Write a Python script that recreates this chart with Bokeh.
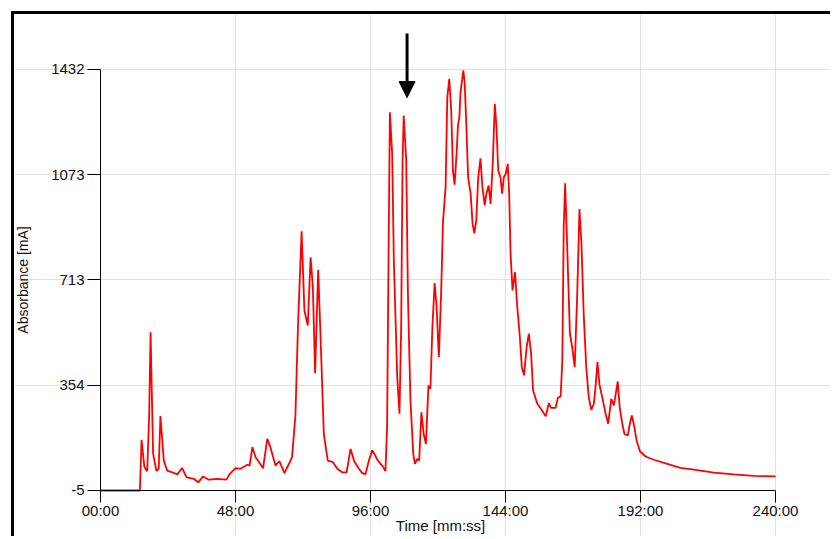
import math
from bokeh.plotting import figure
from bokeh.models import Range1d, FixedTicker, Arrow, NormalHead, Label
from bokeh.embed import file_html
from bokeh.resources import INLINE

# Time in minutes, absorbance in mA
time_min = [0, 14.0, 14.6, 15.6, 16.6, 17.3, 17.8, 18.7, 19.9, 20.7, 21.3, 22.5, 23.7,
            25.5, 27.3, 29.0, 30.6, 33.2, 34.7, 36.5, 38.5, 41.5, 44.8, 46.0, 48.0,
            49.8, 52.2, 53.0, 54.0, 55.1, 56.3, 57.8, 59.3, 60.4, 62.2, 63.6, 65.4,
            67.3, 68.1, 69.3, 70.2, 71.5, 72.5, 73.7, 74.7, 75.5, 76.3, 77.4, 78.2,
            79.4, 80.8, 82.6, 84.2, 85.9, 87.5, 88.9, 90.2, 91.9, 93.0, 94.2, 95.5,
            96.6, 97.5, 98.4, 99.6, 100.5, 101.3, 101.9, 102.5, 102.9, 103.7, 104.3,
            105.5, 106.3, 106.9, 107.4, 107.8, 108.7, 109.3, 110.2, 111.2, 111.8,
            112.6, 113.3, 114.1, 114.9, 115.7, 116.6, 117.3, 118.0, 118.8, 119.5,
            120.3, 121.1, 121.8, 122.7, 123.3, 124.0, 124.7, 125.3, 125.9, 126.6,
            127.1, 127.6, 128.0, 129.0, 129.5, 130.1, 130.7, 131.6, 132.3, 132.9,
            133.6, 134.3, 135.1, 135.8, 136.6, 137.2, 138.0, 138.7, 139.5, 140.2,
            140.8, 141.4, 142.2, 142.8, 143.4, 144.1, 144.8, 145.3, 145.8, 146.5,
            147.4, 148.1, 149.1, 149.8, 150.6, 151.5, 152.3, 153.1, 153.8, 155.3,
            157.0, 158.3, 159.4, 160.2, 161.8, 162.6, 163.6, 164.2, 164.7, 165.2,
            165.9, 166.9, 167.7, 168.6, 169.5, 170.3, 171.0, 171.8, 172.7, 173.6,
            174.5, 175.4, 176.0, 176.7, 177.4, 178.4, 179.6, 180.5, 181.6, 182.5,
            183.2, 183.9, 184.6, 185.5, 186.3, 187.5, 188.2, 188.9, 189.6, 190.6,
            191.8, 193.8, 196.7, 201.5, 206.2, 211.0, 218.1, 225.2, 232.3, 240.0]
absorbance = [-5, -5, 168, 75, 61, 251, 535, 120, 61, 70, 249, 97, 63,
              57, 50, 72, 40, 35, 23, 43, 32, 35, 32, 52, 71,
              69, 83, 80, 143, 109, 92, 71, 171, 143, 80, 95, 54,
              92, 109, 251, 552, 880, 609, 558, 791, 689, 395, 748, 530,
              188, 97, 92, 69, 57, 57, 137, 95, 69, 55, 50, 100,
              132, 118, 100, 86, 75, 61, 211, 894, 1286, 1144, 780,
              382, 257, 552, 1121, 1275, 1121, 666, 302, 120, 86,
              103, 97, 262, 188, 154, 353, 342, 552, 703, 621,
              450, 666, 917, 1030, 1337, 1400, 1292, 1087, 1039, 1144,
              1241, 1269, 1354, 1429, 1383, 1235, 1064, 1008, 905, 873,
              917, 1064, 1129, 1030, 968, 1008, 1036, 973, 1121, 1315,
              1235, 1087, 1064, 1008, 1064, 1076, 1110, 1008, 803, 678,
              740, 632, 518, 416, 388, 484, 530, 462, 336, 291,
              268, 248, 293, 277, 277, 311, 316, 439, 894, 1044,
              837, 530, 484, 416, 666, 956, 837, 598, 416, 313,
              270, 291, 348, 433, 357, 313, 257, 223, 308, 285,
              325, 367, 279, 223, 188, 183, 223, 251, 223, 166,
              129, 111, 100, 86, 72, 66, 56, 50, 45, 43]

x_ticks = [0, 48, 96, 144, 192, 240]
x_tick_labels = ["00:00", "48:00", "96:00", "144:00", "192:00", "240:00"]
y_ticks = [-5, 354.25, 713.5, 1072.75, 1432]
y_tick_labels = ["-5", "354", "713", "1073", "1432"]

arrow_time = 109
arrow_from = 1555
arrow_to = 1336

FONT = "Liberation Sans"

p = figure(width=819, height=525, output_backend="svg", toolbar_location=None,
           x_range=Range1d(-30.58, 260.62), y_range=Range1d(-172.25, 1619.7),
           min_border=0, min_border_left=0, min_border_right=0,
           min_border_top=0, min_border_bottom=0)
p.styles = {"border-top": "3px solid #000", "border-left": "3px solid #000",
            "margin-top": "11px", "margin-left": "11px"}
p.outline_line_color = None
p.background_fill_color = "white"
p.border_fill_color = "white"

p.line(time_min, absorbance, line_color="#ff0000", line_width=1.8)

for ax in (p.xaxis[0], p.yaxis[0]):
    ax.axis_line_color = "black"
    ax.axis_line_width = 1
    ax.major_tick_line_color = "black"
    ax.minor_tick_line_color = None
    ax.major_tick_in = 0
    ax.major_label_text_font = FONT
    ax.major_label_text_font_size = "15px"
    ax.major_label_text_color = "#111111"

p.xaxis.fixed_location = y_ticks[0]
p.xaxis.ticker = FixedTicker(ticks=x_ticks)
p.xaxis.major_label_overrides = {t: l for t, l in zip(x_ticks, x_tick_labels)}
p.xaxis.major_tick_out = 12
p.xaxis.major_label_standoff = 0
p.xaxis.bounds = (x_ticks[0], x_ticks[-1])

p.yaxis.fixed_location = x_ticks[0]
p.yaxis.ticker = FixedTicker(ticks=y_ticks)
p.yaxis.major_label_overrides = {t: l for t, l in zip(y_ticks, y_tick_labels)}
p.yaxis.major_tick_out = 13
p.yaxis.major_label_standoff = 3
p.yaxis.bounds = (y_ticks[0], y_ticks[-1])

p.xgrid.ticker = FixedTicker(ticks=x_ticks[1:])
p.xgrid.bounds = (y_ticks[0], y_ticks[-1])
p.ygrid.ticker = FixedTicker(ticks=y_ticks[1:])
p.ygrid.bounds = (x_ticks[0], x_ticks[-1])
for g in (p.xgrid[0], p.ygrid[0]):
    g.grid_line_color = "#e0e0e0"
    g.grid_line_width = 1

p.add_layout(Arrow(end=NormalHead(size=16, fill_color="black", line_color="black"),
                   x_start=arrow_time, y_start=arrow_from,
                   x_end=arrow_time, y_end=arrow_to,
                   line_color="black", line_width=3))

p.add_layout(Label(x=120.9, y=-152, text="Time [mm:ss]", text_align="center",
                   text_baseline="bottom", text_font=FONT, text_font_size="15px",
                   text_color="#111111"))
p.add_layout(Label(x=-27.7, y=713.5, text="Absorbance [mA]", angle=math.pi / 2,
                   text_align="center", text_baseline="middle", text_font=FONT,
                   text_font_size="14px", text_color="#111111"))

open("out.html", "w").write(file_html(p, INLINE))
